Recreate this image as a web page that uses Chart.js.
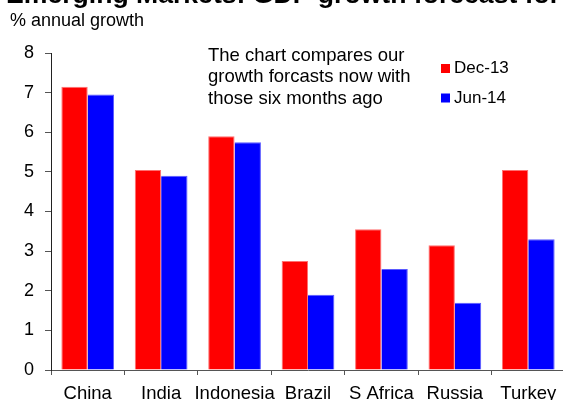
<!DOCTYPE html>
<html>
<head>
<meta charset="utf-8">
<script src="https://cdn.jsdelivr.net/npm/chart.js@4/dist/chart.umd.min.js"></script>
<style>
  html, body { margin: 0; padding: 0; background: #fff; overflow: hidden; }
  #wrap { position: absolute; left: 0; top: 0; width: 600px; height: 400px; }
</style>
</head>
<body>
<div id="wrap"><canvas id="c" width="600" height="400"></canvas></div>
<script>
// GDP growth forecasts, % annual growth
const categories = ['China', 'India', 'Indonesia', 'Brazil', 'S Africa', 'Russia', 'Turkey'];
const seriesNames = ['Dec-13', 'Jun-14'];
const dec13 = [7.15, 5.05, 5.9, 2.75, 3.55, 3.15, 5.05];
const jun14 = [6.95, 4.9, 5.75, 1.9, 2.55, 1.7, 3.3];
const yMin = 0, yMax = 8, yStep = 1;

const titleText = 'Emerging Markets: GDP growth forecast for';
const unitText = '% annual growth';
const noteLines = ['The chart compares our', 'growth forcasts now with', 'those six months ago'];

const FONT = "'Liberation Sans', Arial, Helvetica, sans-serif";

// Headings, the note and the legend are painted on the canvas after the chart
const overlay = {
  id: 'overlay',
  afterDraw(chart) {
    const ctx = chart.ctx;
    ctx.save();
    ctx.fillStyle = '#000';
    ctx.textAlign = 'left';
    ctx.textBaseline = 'alphabetic';

    ctx.font = 'bold 26.6px ' + FONT;
    ctx.fillText(titleText, 6, 3);

    ctx.font = '18px ' + FONT;
    ctx.fillText(unitText, 10, 26);

    ctx.font = '18.5px ' + FONT;
    noteLines.forEach((line, i) => ctx.fillText(line, 208, 61 + i * 21.3));

    ctx.font = '17px ' + FONT;
    chart.data.datasets.forEach((ds, i) => {
      const base = 73 + i * 29.5;
      ctx.fillStyle = ds.backgroundColor;
      ctx.fillRect(441, base - 9, 9, 9);
      ctx.fillStyle = '#000';
      ctx.fillText(ds.label, 454, base);
    });
    ctx.restore();
  }
};

new Chart(document.getElementById('c'), {
  type: 'bar',
  data: {
    labels: categories,
    datasets: [
      { label: seriesNames[0], data: dec13, backgroundColor: '#ff0000',
        borderColor: '#ff7070', borderWidth: { top: 1, left: 1, right: 1, bottom: 0 } },
      { label: seriesNames[1], data: jun14, backgroundColor: '#0000ff',
        borderColor: '#5a5aff', borderWidth: { top: 1, left: 0, right: 1, bottom: 0 } }
    ]
  },
  options: {
    responsive: false,
    animation: false,
    devicePixelRatio: 1,
    layout: { padding: { left: 0, right: 35, top: 53, bottom: 0 } },
    datasets: { bar: { categoryPercentage: 0.718, barPercentage: 1.0 } },
    plugins: {
      legend: { display: false },
      tooltip: { enabled: false },
      title: { display: false }
    },
    scales: {
      x: {
        grid: { display: true, drawOnChartArea: false, drawTicks: true, tickLength: 5,
                color: '#555', offset: true },
        border: { display: true, color: '#555', width: 1 },
        ticks: { color: '#000', font: { family: FONT, size: 18.5 }, padding: 8,
                 maxRotation: 0, autoSkip: false },
        afterFit(scale) { scale.height = 30; }
      },
      y: {
        min: yMin, max: yMax,
        grid: { display: true, drawOnChartArea: false, drawTicks: true, tickLength: 6,
                color: '#555' },
        border: { display: true, color: '#222', width: 1 },
        ticks: { stepSize: yStep, color: '#000', font: { family: FONT, size: 18 }, padding: 11 },
        afterFit(scale) { scale.width = 51; }
      }
    }
  },
  plugins: [overlay]
});
</script>
</body>
</html>
